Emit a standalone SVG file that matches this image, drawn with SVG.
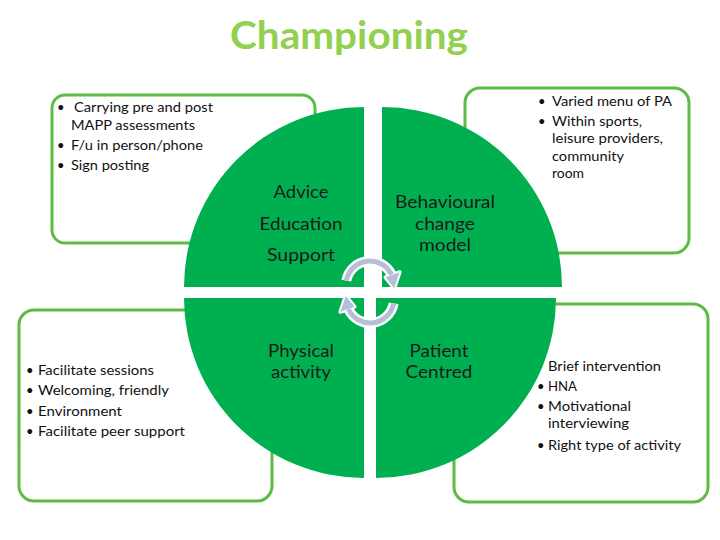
<svg xmlns="http://www.w3.org/2000/svg" width="720" height="540" viewBox="0 0 720 540">
<style>
.box{fill:#fff;stroke:#5DBB46;stroke-width:3}
.q{fill:#00B050}
.t{font-family:Lato,"Liberation Sans",sans-serif;font-size:13px;fill:#111}
.c{font-family:Lato,"Liberation Sans",sans-serif;font-size:18px;fill:#1a1a1a;text-anchor:middle}
.title{font-family:Lato,"Liberation Sans",sans-serif;font-size:39px;font-weight:bold;fill:#92D050;text-anchor:middle}
.arc{fill:none;stroke-linecap:butt}
</style>
<defs>
<g id="cyc">
<path d="M346.3,280.6 A24,24 0 0 1 391.6,274.8" class="arc" stroke="#fff" stroke-width="10"/>
<polygon points="385.5,277.3 399.6,272.2 394.2,288.1" fill="#fff" stroke="#fff" stroke-width="4" stroke-linejoin="round"/>
<path d="M346.3,280.6 A24,24 0 0 1 391.6,274.8" class="arc" stroke="#B7BFD6" stroke-width="5"/>
<polygon points="385.5,277.3 399.6,272.2 394.2,288.1" fill="#B7BFD6"/>
</g>
</defs>
<rect width="720" height="540" fill="#fff"/>
<text class="title" x="349" y="49" textLength="238" lengthAdjust="spacingAndGlyphs">Championing</text>

<g id="box-top-left">
<rect class="box" x="52" y="95" width="263" height="148" rx="13"/>
</g>
<g id="box-top-right">
<rect class="box" x="465" y="88" width="224" height="165" rx="15"/>
</g>
<g id="box-bottom-left">
<rect class="box" x="19" y="310" width="253" height="191" rx="15"/>
</g>
<g id="box-bottom-right">
<rect class="box" x="454" y="304" width="254" height="198" rx="15"/>
</g>

<g id="quad-tl">
<path class="q" d="M364,287 L184,287 A180,180 0 0 1 364,107 Z"/>
<text class="c" x="301" y="198" textLength="55" lengthAdjust="spacingAndGlyphs">Advice</text>
<text class="c" x="301" y="230" textLength="83" lengthAdjust="spacingAndGlyphs">Education</text>
<text class="c" x="301" y="261" textLength="68" lengthAdjust="spacingAndGlyphs">Support</text>
</g>
<g id="quad-tr">
<path class="q" d="M382,287 L382,107 A180,180 0 0 1 562,287 Z"/>
<text class="c" x="445" y="208" textLength="100" lengthAdjust="spacingAndGlyphs">Behavioural</text>
<text class="c" x="445" y="230" textLength="60" lengthAdjust="spacingAndGlyphs">change</text>
<text class="c" x="445" y="251" textLength="52" lengthAdjust="spacingAndGlyphs">model</text>
</g>
<g id="quad-bl">
<path class="q" d="M364,298 L364,478 A180,180 0 0 1 184,298 Z"/>
<text class="c" x="301" y="357" textLength="66" lengthAdjust="spacingAndGlyphs">Physical</text>
<text class="c" x="301" y="378" textLength="60" lengthAdjust="spacingAndGlyphs">activity</text>
</g>
<g id="quad-br">
<path class="q" d="M376,298 L556,298 A180,180 0 0 1 376,478 Z"/>
<text class="c" x="439" y="357" textLength="59" lengthAdjust="spacingAndGlyphs">Patient</text>
<text class="c" x="439" y="378" textLength="67" lengthAdjust="spacingAndGlyphs">Centred</text>
</g>

<g id="connectors">
<use href="#cyc"/>
<use href="#cyc" transform="rotate(180 370 292)"/>
</g>

<g id="text-top-left">
<text class="t" x="57" y="112">•</text>
<text class="t" x="74" y="112" textLength="139" lengthAdjust="spacingAndGlyphs">Carrying pre and post</text>
<text class="t" x="71" y="130" textLength="124" lengthAdjust="spacingAndGlyphs">MAPP assessments</text>
<text class="t" x="57" y="150">•</text>
<text class="t" x="71" y="150" textLength="132" lengthAdjust="spacingAndGlyphs">F/u in person/phone</text>
<text class="t" x="57" y="170">•</text>
<text class="t" x="71" y="170" textLength="78" lengthAdjust="spacingAndGlyphs">Sign posting</text>
</g>
<g id="text-top-right">
<text class="t" x="538" y="106">•</text>
<text class="t" x="552" y="106" textLength="120" lengthAdjust="spacingAndGlyphs">Varied menu of PA</text>
<text class="t" x="538" y="126">•</text>
<text class="t" x="552" y="126" textLength="90" lengthAdjust="spacingAndGlyphs">Within sports,</text>
<text class="t" x="552" y="143" textLength="111" lengthAdjust="spacingAndGlyphs">leisure providers,</text>
<text class="t" x="552" y="161" textLength="72" lengthAdjust="spacingAndGlyphs">community</text>
<text class="t" x="552" y="178" textLength="32" lengthAdjust="spacingAndGlyphs">room</text>
</g>
<g id="text-bottom-left">
<text class="t" x="26" y="375">•</text>
<text class="t" x="38" y="375" textLength="116" lengthAdjust="spacingAndGlyphs">Facilitate sessions</text>
<text class="t" x="26" y="395">•</text>
<text class="t" x="38" y="395" textLength="131" lengthAdjust="spacingAndGlyphs">Welcoming, friendly</text>
<text class="t" x="26" y="416">•</text>
<text class="t" x="38" y="416" textLength="84" lengthAdjust="spacingAndGlyphs">Environment</text>
<text class="t" x="26" y="436">•</text>
<text class="t" x="38" y="436" textLength="147" lengthAdjust="spacingAndGlyphs">Facilitate peer support</text>
</g>
<g id="text-bottom-right">
<text class="t" x="548" y="371" textLength="113" lengthAdjust="spacingAndGlyphs">Brief intervention</text>
<text class="t" x="537" y="391">•</text>
<text class="t" x="548" y="391" textLength="29" lengthAdjust="spacingAndGlyphs">HNA</text>
<text class="t" x="537" y="411">•</text>
<text class="t" x="548" y="411" textLength="83" lengthAdjust="spacingAndGlyphs">Motivational</text>
<text class="t" x="548" y="428" textLength="81" lengthAdjust="spacingAndGlyphs">interviewing</text>
<text class="t" x="537" y="450">•</text>
<text class="t" x="548" y="450" textLength="133" lengthAdjust="spacingAndGlyphs">Right type of activity</text>
</g>
</svg>
